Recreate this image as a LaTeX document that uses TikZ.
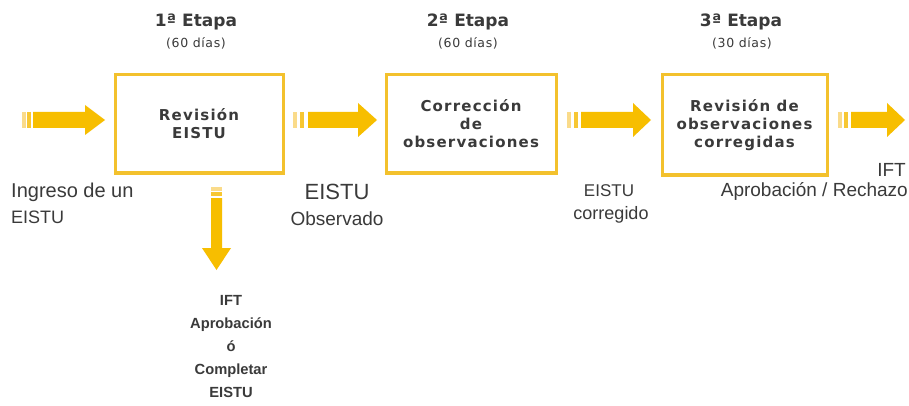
\documentclass[tikz,border=0pt]{standalone}
\usepackage{fontspec}
\setmainfont{DejaVu Sans}
\newfontfamily\boxfont[LetterSpace=8]{DejaVu Sans}
\newfontfamily\parenfont[LetterSpace=5]{DejaVu Sans}
\newfontfamily\labelfont{Liberation Sans}
\definecolor{arrowY}{HTML}{F7BE00}
\definecolor{boxY}{HTML}{F3C12D}
\definecolor{tickL}{HTML}{FADB8A}
\definecolor{tickD}{HTML}{F7C733}
\definecolor{txt}{HTML}{3A3A3A}
% horizontal block arrow: #1 light tick x, #2 dark tick x, #3 body start, #4 head base, #5 tip, #6 head half height
\newcommand\hblockarrow[6]{%
  \fill[tickL] (#1,112) rectangle ++(3.5,16);
  \fill[tickD] (#2,112) rectangle ++(4,16);
  \fill[arrowY] (#3,112) -- (#4,112) -- (#4,120-#6) -- (#5,120) -- (#4,120+#6) -- (#4,128) -- (#3,128) -- cycle;
}
\begin{document}
\begin{tikzpicture}[x=1pt,y=-1pt,
  stagebox/.style={draw=boxY, line width=3pt, text=txt, align=center, inner sep=0pt,
    font=\boxfont\bfseries\fontsize{15}{18}\selectfont},
  stagehead/.style={text=txt, font=\bfseries\fontsize{17}{20}\selectfont, inner sep=0pt},
  stagedays/.style={text=txt, font=\parenfont\fontsize{12.5}{14}\selectfont, inner sep=0pt},
  lbl/.style={text=txt, font=\labelfont\fontsize{19}{23}\selectfont, inner sep=0pt},
  result/.style={text=txt, align=center, inner sep=0pt, font=\labelfont\bfseries\fontsize{14.7}{23}\selectfont}]
\useasboundingbox (0,0) rectangle (909,406);
\fill[white] (0,0) rectangle (909,406);

% headers
\node[stagehead] (h1) at (196,22) {1ª Etapa};
\node[stagedays] (d1) at (196,43) {(60 días)};
\node[stagehead] (h2) at (468,22) {2ª Etapa};
\node[stagedays] (d2) at (468,43) {(60 días)};
\node[stagehead] (h3) at (741,22) {3ª Etapa};
\node[stagedays] (d3) at (742,43) {(30 días)};

% boxes
\node[stagebox, minimum width=168pt, minimum height=98pt] (b1) at (199,124) {Revisión\\EISTU};
\node[stagebox, minimum width=170pt, minimum height=98pt] (b2) at (471,124) {Corrección\\de\\observaciones};
\node[stagebox, minimum width=165pt, minimum height=100pt] (b3) at (744.5,125) {Revisión de\\observaciones\\corregidas};

% arrows
\hblockarrow{22}{27}{33}{85}{105}{15}
\hblockarrow{293}{300}{308}{358}{377}{17}
\hblockarrow{567}{574}{581}{633}{651}{17}
\hblockarrow{838}{844}{851}{887}{905}{17}

% down arrow
\fill[tickL] (211,187) rectangle (222,190.5);
\fill[tickD] (211,192) rectangle (222,196);
\fill[arrowY] (211,198) -- (211,248) -- (202,248) -- (216.5,270) -- (231,248) -- (222,248) -- (222,198) -- cycle;

% labels
\node[lbl, anchor=west, font=\labelfont\fontsize{20}{23}\selectfont] (l1a) at (11,192) {Ingreso de un};
\node[lbl, anchor=west, font=\labelfont\fontsize{18}{23}\selectfont] (l1b) at (11,217) {EISTU};
\node[lbl, font=\labelfont\fontsize{22}{26}\selectfont] (l2a) at (337,192) {EISTU};
\node[lbl] (l2b) at (337,219) {Observado};
\node[lbl, font=\labelfont\fontsize{17}{23}\selectfont] (l3a) at (609,191) {EISTU};
\node[lbl, font=\labelfont\fontsize{18}{23}\selectfont] (l3b) at (611,215) {corregido};
\node[lbl, anchor=east] (l4a) at (906,170) {IFT};
\node[lbl, anchor=east] (l4b) at (908,191) {Aprobación / Rechazo};

\node[result] (r1) at (231,347) {IFT\\Aprobación\\ó\\Completar\\EISTU};
\end{tikzpicture}
\end{document}
